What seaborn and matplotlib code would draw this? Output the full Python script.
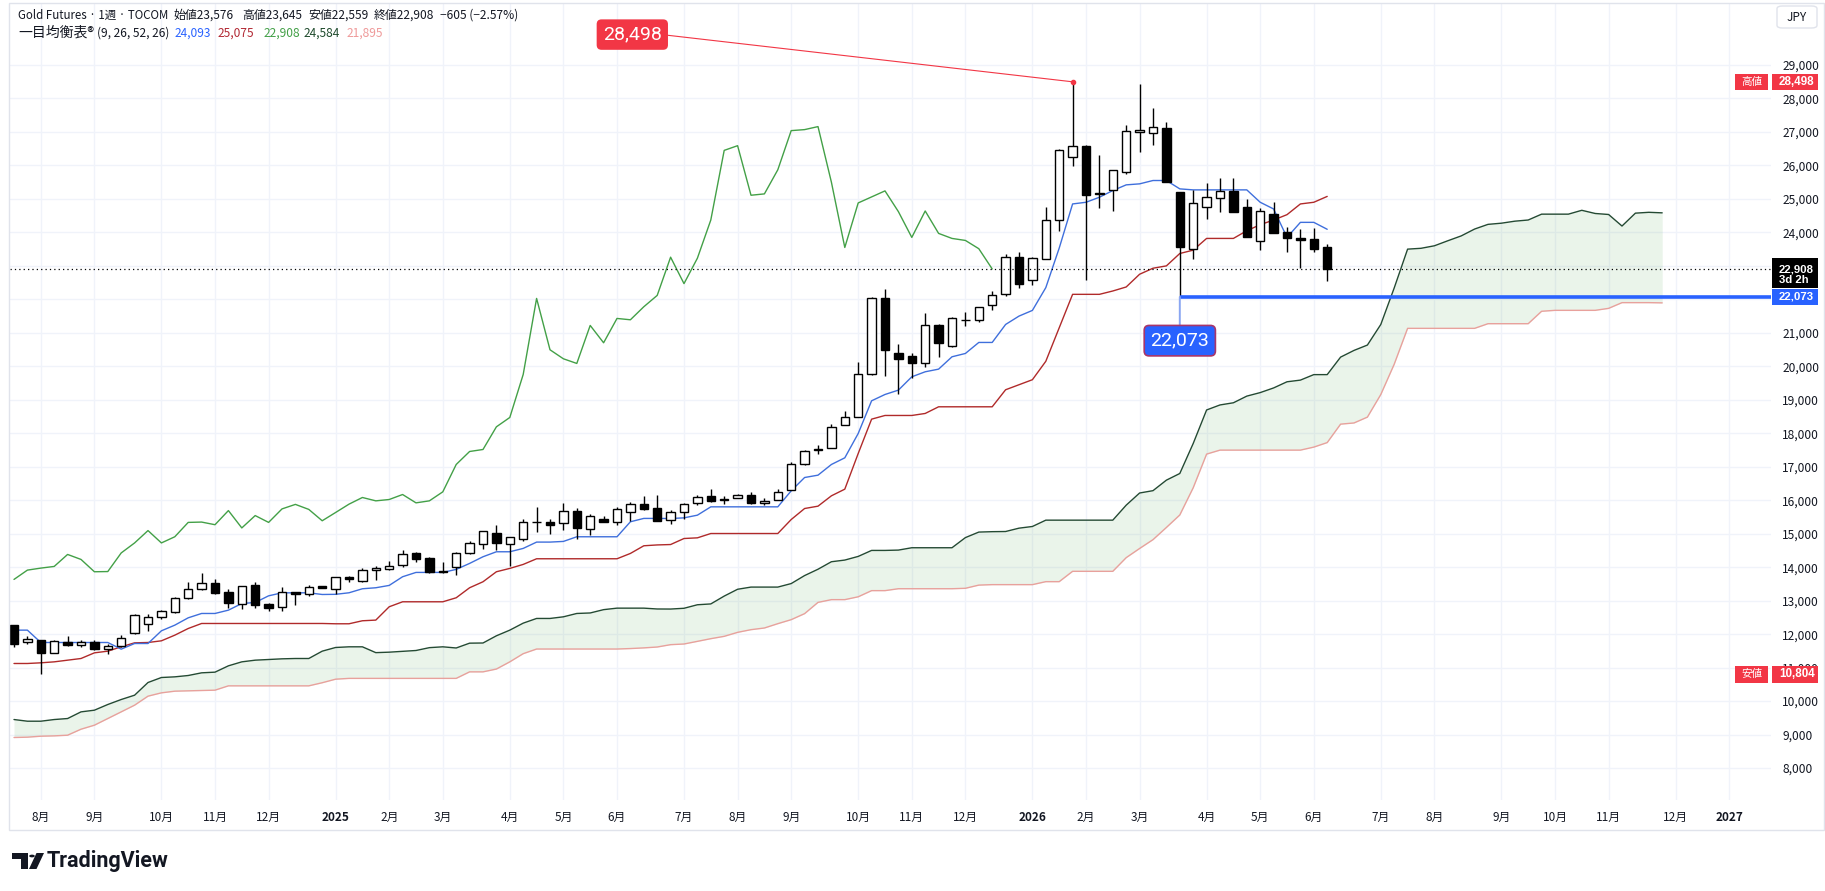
import numpy as np
import pandas as pd
import matplotlib
matplotlib.use("Agg")
import matplotlib.pyplot as plt
import matplotlib.transforms as mtransforms
from matplotlib.patches import Rectangle, FancyBboxPatch, Polygon, Circle
import seaborn as sns

# ---------------- data (weekly candles, TOCOM gold, JPY) ----------------
opens = [12269, 11751, 11821, 11452, 11761, 11691, 11751, 11542, 11651, 12020,
         12289, 12518, 12647, 13066, 13335, 13514, 13245, 12886, 13454, 12886,
         12797, 13245, 13185, 13434, 13345, 13704, 13595, 13904, 13953, 14053,
         14411, 14262, 13880, 14018, 14426, 14695, 15034, 14695, 14830, 15338,
         15338, 15308, 15691, 15153, 15427, 15338, 15646, 15886, 15756, 15395,
         15634, 15903, 16122, 16032, 16052, 16171, 15922, 16022, 16291, 17078,
         17506, 17546, 18233, 18492, 19757, 22028, 20384, 20305, 20086, 21221,
         20614, 21380, 21371, 21829, 22150, 23260, 22570, 23200, 24370, 26260,
         26590, 25160, 25270, 25810, 27010, 26980, 27130, 25210, 23500, 24770,
         25040, 25240, 24770, 23740, 24550, 24010, 23840, 23800, 23576]
highs = [12269, 11940, 11840, 11811, 11940, 11821, 11821, 11721, 11970, 12598,
         12598, 12717, 13096, 13554, 13813, 13634, 13335, 13444, 13554, 12916,
         13405, 13265, 13474, 13434, 13700, 13744, 13962, 14023, 14182, 14511,
         14461, 14312, 14143, 14446, 14795, 15094, 15258, 14909, 15427, 15796,
         15427, 15910, 15781, 15592, 15517, 15811, 15936, 16125, 16154, 15703,
         15903, 16152, 16331, 16122, 16191, 16241, 16072, 16331, 17148, 17496,
         17645, 18273, 18661, 20116, 22058, 22297, 20663, 20384, 21580, 21251,
         21460, 21630, 21779, 22247, 23350, 23420, 23280, 24770, 26500, 28498,
         26620, 26300, 25870, 27200, 28420, 27730, 27310, 25210, 25280, 25480,
         25610, 25610, 24990, 24740, 24910, 24170, 24110, 24130, 23645]
lows = [11622, 11701, 10804, 11440, 11651, 11622, 11532, 11422, 11622, 12000,
        12100, 12458, 12627, 13056, 13305, 13205, 12787, 12757, 12787, 12697,
        12697, 12876, 13146, 13365, 13195, 13545, 13545, 13624, 13923, 13998,
        14143, 13834, 13834, 13769, 14396, 14546, 14516, 14048, 14790, 15057,
        14998, 15109, 14845, 14964, 15338, 15259, 15392, 15706, 15387, 15305,
        15454, 15863, 15952, 15873, 16052, 15883, 15853, 16022, 16291, 17048,
        17377, 17546, 18233, 18472, 19737, 19717, 19159, 19637, 19966, 20265,
        20584, 21211, 21311, 21669, 22110, 22350, 22420, 23200, 24050, 25980,
        22580, 24720, 24630, 25750, 26400, 26620, 25500, 22073, 23220, 24390,
        24600, 24600, 23850, 23460, 23970, 23400, 22950, 23400, 22559]
closes = [11721, 11841, 11442, 11781, 11681, 11761, 11562, 11632, 11900, 12568,
          12518, 12677, 13066, 13335, 13534, 13235, 12916, 13424, 12877, 12767,
          13245, 13185, 13414, 13365, 13693, 13635, 13913, 13973, 14023, 14381,
          14232, 13864, 13870, 14426, 14725, 15094, 14725, 14909, 15338, 15348,
          15269, 15691, 15173, 15542, 15338, 15741, 15876, 15726, 15387, 15634,
          15883, 16082, 15982, 16022, 16171, 15922, 15982, 16251, 17068, 17456,
          17516, 18193, 18472, 19757, 22028, 20494, 20225, 20086, 21221, 20703,
          21430, 21390, 21779, 22118, 23260, 22470, 23230, 24370, 26450, 26590,
          25110, 25150, 25870, 27040, 27070, 27160, 25500, 23550, 24880, 25060,
          25240, 24620, 23850, 24640, 23970, 23820, 23760, 23513, 22908]

# Ichimoku (9, 26, 52, 26)
tenkan = [12120, 12120, 11751, 11751, 11751, 11751, 11751, 11751, 11552, 11721,
          11721, 12100, 12269, 12488, 12618, 12618, 12717, 12916, 12946, 13145,
          13235, 13235, 13235, 13185, 13190, 13236, 13356, 13386, 13456, 13715,
          13844, 13844, 13844, 13934, 14113, 14312, 14461, 14461, 14561, 14750,
          14750, 14770, 14909, 14909, 14909, 14909, 15357, 15457, 15457, 15454,
          15474, 15554, 15803, 15803, 15803, 15803, 15803, 15803, 16281, 16679,
          16749, 17068, 17267, 17994, 18970, 19159, 19289, 19687, 19837, 19916,
          20285, 20384, 20713, 20713, 21250, 21500, 21670, 22350, 23530, 24850,
          24900, 25050, 25250, 25420, 25450, 25550, 25550, 25300, 25270, 25270,
          25270, 25270, 25270, 24900, 24700, 23850, 24300, 24300, 24093]
kijun = [11124, 11124, 11144, 11173, 11223, 11273, 11442, 11492, 11622, 11741,
         11751, 11801, 11970, 12169, 12319, 12319, 12319, 12319, 12319, 12319,
         12319, 12319, 12319, 12319, 12310, 12310, 12400, 12420, 12818, 12967,
         12967, 12967, 12967, 13087, 13386, 13565, 13864, 13964, 14083, 14252,
         14252, 14252, 14252, 14252, 14252, 14252, 14411, 14640, 14665, 14677,
         14857, 14877, 15006, 15006, 15006, 15006, 15006, 15006, 15424, 15753,
         15823, 16132, 16331, 17396, 18422, 18532, 18532, 18532, 18592, 18791,
         18791, 18791, 18791, 18791, 19300, 19450, 19600, 20150, 21150, 22150,
         22150, 22150, 22250, 22370, 22750, 22930, 23000, 23370, 23470, 23820,
         23820, 23820, 24050, 24230, 24370, 24530, 24850, 24900, 25075]
span_a = [9450, 9400, 9400, 9450, 9480, 9679, 9729, 9899, 10048, 10177,
          10556, 10705, 10725, 10765, 10845, 10865, 11054, 11173, 11223, 11243,
          11263, 11273, 11273, 11492, 11602, 11622, 11622, 11448, 11462, 11487,
          11512, 11597, 11622, 11587, 11731, 11736, 11951, 12120, 12329, 12469,
          12469, 12518, 12618, 12633, 12732, 12777, 12777, 12777, 12752, 12750,
          12773, 12878, 12903, 13137, 13341, 13406, 13406, 13406, 13511, 13750,
          13939, 14163, 14213, 14322, 14501, 14501, 14511, 14581, 14581, 14581,
          14581, 14884, 15049, 15061, 15066, 15166, 15216, 15405, 15405, 15405,
          15405, 15405, 15405, 15853, 16216, 16286, 16600, 16799, 17695, 18696,
          18846, 18911, 19110, 19215, 19354, 19538, 19588, 19752, 19752, 20275,
          20475, 20635, 21250, 22340, 23500, 23525, 23600, 23750, 23895, 24100,
          24240, 24275, 24335, 24370, 24545, 24545, 24545, 24660, 24565, 24535,
          24190, 24575, 24600, 24584]
span_b = [8913, 8923, 8952, 8962, 8982, 9161, 9281, 9480, 9679, 9879,
          10148, 10247, 10297, 10307, 10317, 10327, 10456, 10456, 10456, 10456,
          10456, 10456, 10456, 10549, 10655, 10679, 10679, 10679, 10679, 10679,
          10679, 10679, 10679, 10679, 10874, 10874, 10958, 11173, 11417, 11556,
          11556, 11556, 11556, 11556, 11556, 11556, 11570, 11590, 11616, 11686,
          11706, 11785, 11865, 11935, 12054, 12134, 12184, 12313, 12433, 12613,
          12949, 13031, 13031, 13116, 13300, 13300, 13357, 13357, 13357, 13357,
          13357, 13370, 13465, 13479, 13479, 13479, 13479, 13568, 13568, 13877,
          13877, 13877, 13877, 14285, 14559, 14823, 15187, 15560, 16372, 17378,
          17497, 17497, 17497, 17497, 17497, 17497, 17497, 17587, 17722, 18273,
          18308, 18483, 19158, 20062, 21134, 21134, 21134, 21134, 21134, 21134,
          21273, 21273, 21273, 21273, 21644, 21672, 21672, 21672, 21672, 21731,
          21902, 21902, 21902, 21895]
LAG = 25  # displacement (26) - 1
first_bar_date = "2024-07-22"
month_labels = ["8月", "9月", "10月", "11月", "12月", "2025", "2月", "3月", "4月", "5月",
                "6月", "7月", "8月", "9月", "10月", "11月", "12月", "2026", "2月", "3月",
                "4月", "5月", "6月", "7月", "8月", "9月", "10月", "11月", "12月", "2027"]
price_ticks = list(range(8000, 30000, 1000))
hidden_price_labels = [22000, 23000]  # covered by the last-price / support tags
bar_time_left = "3d 2h"

# ---------------- style ----------------
sns.set_theme(style="white")
plt.rcParams["font.family"] = ["Noto Sans CJK JP", "DejaVu Sans"]
plt.rcParams["axes.unicode_minus"] = False
TXT = "#131722"
C_TENKAN = "#3f6fdc"
C_KIJUN = "#b02a2a"
C_CHIKOU = "#43a047"
C_SPANA = "#244a33"
C_SPANB = "#e8a19c"
C_RED = "#f23645"
C_BLUE = "#2962ff"

W, H, DPI = 1825, 891, 100
fig = plt.figure(figsize=(W / DPI, H / DPI), dpi=DPI)
fig.patch.set_facecolor("white")

# pane geometry (pixels, from top-left) and scale calibration
PANE_L, PANE_R, PANE_T, PANE_B = 10, 1771, 4, 800
BAR_PX, FIRST_BAR_PX = 13.4, 14
PX_PER_YEN, Y_REF_PX, Y_REF = 33.48 / 1000, 65, 29000
ax = fig.add_axes([PANE_L / W, 1 - PANE_B / H, (PANE_R - PANE_L) / W, (PANE_B - PANE_T) / H])
xmin = (PANE_L - FIRST_BAR_PX) / BAR_PX
xmax = (PANE_R - FIRST_BAR_PX) / BAR_PX
ax.set_xlim(xmin, xmax)
ax.set_ylim(Y_REF - (PANE_B - Y_REF_PX) / PX_PER_YEN, Y_REF + (Y_REF_PX - PANE_T) / PX_PER_YEN)
ax.set_facecolor("white")
for s in ax.spines.values():
    s.set_visible(False)

# ---------------- time axis ----------------
dates = pd.date_range(first_bar_date, periods=int(xmax) + 2, freq="7D")
tick_pos = [i for i in range(1, len(dates)) if dates[i].month != dates[i - 1].month]
tick_pos = tick_pos[:len(month_labels)]
ax.set_xticks(tick_pos)
ax.set_xticklabels(month_labels)
for t in ax.get_xticklabels():
    if t.get_text().isdigit():
        t.set_fontweight("bold")
ax.tick_params(axis="x", length=0, pad=8, labelsize=8.5, labelcolor=TXT)

ax.yaxis.tick_right()
ax.set_yticks(price_ticks)
ax.set_yticklabels(["" if v in hidden_price_labels else f"{v:,}" for v in price_ticks])
ax.tick_params(axis="y", length=0, pad=8, labelsize=8.6, labelcolor=TXT)
ax.grid(True, color="#f0f3fa", lw=1.0)
ax.set_axisbelow(True)

# ---------------- ichimoku ----------------
n = len(closes)
xa = np.arange(len(span_a))
sa, sb = np.array(span_a, float), np.array(span_b, float)
ax.fill_between(xa, sa, sb, where=sa >= sb, interpolate=True, color="#43a047", alpha=0.11, lw=0, zorder=1)
ax.fill_between(xa, sa, sb, where=sa < sb, interpolate=True, color="#f23645", alpha=0.11, lw=0, zorder=1)
sns.lineplot(x=xa, y=sa, ax=ax, color=C_SPANA, linewidth=1.0, estimator=None, legend=False, zorder=2)
sns.lineplot(x=xa, y=sb, ax=ax, color=C_SPANB, linewidth=1.0, estimator=None, legend=False, zorder=2)
chikou = np.array(closes[LAG:], float)
sns.lineplot(x=np.arange(len(chikou)), y=chikou, ax=ax, color=C_CHIKOU, linewidth=1.0,
             estimator=None, legend=False, zorder=2)
sns.lineplot(x=np.arange(n), y=kijun, ax=ax, color=C_KIJUN, linewidth=1.0, estimator=None, legend=False, zorder=3)
sns.lineplot(x=np.arange(n), y=tenkan, ax=ax, color=C_TENKAN, linewidth=1.0, estimator=None, legend=False, zorder=3)

# ---------------- candles ----------------
o, h, l, c = (np.array(a, float) for a in (opens, highs, lows, closes))
idx = np.arange(n)
up = c >= o
body_lo = np.minimum(o, c)
body_h = np.maximum(np.abs(c - o), 12)
ax.vlines(idx, l, h, color="black", lw=1.0, zorder=4)
ax.bar(idx[up], body_h[up], bottom=body_lo[up], width=0.62, color="white", edgecolor="black", linewidth=1.0, zorder=5)
ax.bar(idx[~up], body_h[~up], bottom=body_lo[~up], width=0.62, color="black", edgecolor="black", linewidth=1.0, zorder=5)

# last price dotted line
ax.axhline(c[-1], color="black", lw=0.9, ls=(0, (1, 2.5)), zorder=6)

# support line from recent low
sup_i = int(np.argmin(l[-20:])) + n - 20
ax.hlines(l[sup_i], sup_i, xmax, color=C_BLUE, lw=2.6, zorder=7)
ax.annotate(f"{int(l[sup_i]):,}", xy=(sup_i, l[sup_i]), xytext=(0, -31.5), textcoords="offset points",
            ha="center", va="center", color="white", fontsize=14, family=["Roboto", "DejaVu Sans"],
            bbox=dict(boxstyle="round,pad=0.32,rounding_size=0.25", fc=C_BLUE, ec="#a8356a", lw=1.2),
            arrowprops=dict(arrowstyle="-", color="#8aa6f2", lw=1.4, shrinkA=0, shrinkB=0),
            zorder=9)

# high callout
hi_i = int(np.argmax(h))
ax.scatter([hi_i], [h[hi_i]], s=9, color=C_RED, zorder=8)
ax.annotate(f"{int(h[hi_i]):,}", xy=(hi_i, h[hi_i]), xytext=(-317, 34), textcoords="offset points",
            ha="center", va="center", color="white", fontsize=14, family=["Roboto", "DejaVu Sans"],
            bbox=dict(boxstyle="round,pad=0.32,rounding_size=0.25", fc=C_RED, ec="none"),
            arrowprops=dict(arrowstyle="-", color=C_RED, lw=0.8, shrinkA=0, shrinkB=0, relpos=(1, 0.5)),
            zorder=9)

# ---------------- price-axis tags ----------------
trans = mtransforms.blended_transform_factory(ax.transAxes, ax.transData)
AXW = PANE_R - PANE_L
YPP = 1 / PX_PER_YEN
TAGFONT = ["Liberation Sans", "DejaVu Sans"]


def axfrac(xpx):
    return (xpx - PANE_L) / AXW


def tag(price, text, fc, x0, x1, up_px=8, dn_px=8, fs=8.4, weight="bold", ha="left", tx=None, family=None):
    ax.add_patch(Rectangle((axfrac(x0), price - dn_px * YPP), axfrac(x1) - axfrac(x0), (up_px + dn_px) * YPP,
                           transform=trans, fc=fc, ec="none", clip_on=False, zorder=20))
    xt = axfrac(tx if tx is not None else (x0 + x1) / 2)
    ax.text(xt, price, text, transform=trans, ha=ha, va="center", color="white", fontsize=fs,
            fontweight=weight, clip_on=False, zorder=21, family=family or TAGFONT)


lo_i = int(np.argmin(l))
tag(h[hi_i], f"{int(h[hi_i]):,}", C_RED, 1772, 1818, tx=1779)
tag(h[hi_i], "高値", C_RED, 1735, 1768, ha="center", weight="normal", fs=7.6, family=["Noto Sans CJK JP"])
tag(l[lo_i], f"{int(l[lo_i]):,}", C_RED, 1772, 1818, up_px=8.5, dn_px=8.5, tx=1779)
tag(l[lo_i], "安値", C_RED, 1735, 1768, up_px=8.5, dn_px=8.5, ha="center", weight="normal", fs=7.6,
    family=["Noto Sans CJK JP"])
# last price + countdown tag (one two-line text)
ax.add_patch(Rectangle((axfrac(1772), c[-1] - 19 * YPP), axfrac(1818) - axfrac(1772), 30 * YPP,
                       transform=trans, fc="black", ec="none", clip_on=False, zorder=20))
ax.text(axfrac(1779), c[-1] - 5.5 * YPP, f"{int(c[-1]):,}\n{bar_time_left}", transform=trans,
        ha="left", va="center", color="white", fontsize=8.2, fontweight="bold", linespacing=1.05,
        clip_on=False, zorder=21, family=TAGFONT)
tag(l[sup_i], f"{int(l[sup_i]):,}", C_BLUE, 1772, 1818, up_px=7.5, dn_px=8, tx=1779, fs=8.2)

# ---------------- header ----------------
chg = c[-1] - c[-2]
pct = chg / c[-2] * 100
header1 = [("Gold Futures · 1週 · TOCOM", TXT, 18, 8.3),
           (f"始値{int(o[-1]):,}", TXT, 173, 8.6),
           (f"高値{int(h[-1]):,}", TXT, 242, 8.6),
           (f"安値{int(l[-1]):,}", TXT, 308, 8.6),
           (f"終値{int(c[-1]):,}", TXT, 374, 8.6),
           (f"−{abs(int(chg)):,} (−{abs(pct):.2f}%)", TXT, 440, 8.6)]
header2 = [("一目均衡表®", TXT, 18, 10.0),
           ("(9, 26, 52, 26)", TXT, 97, 8.6),
           (f"{tenkan[-1]:,}", C_BLUE, 175, 8.6),
           (f"{kijun[-1]:,}", "#b22833", 218, 8.6),
           (f"{closes[-1]:,}", C_CHIKOU, 264, 8.6),
           (f"{span_a[-1]:,}", "#1e4a2c", 304, 8.6),
           (f"{span_b[-1]:,}", "#ef9a9a", 347, 8.6)]
for text, color, xp, fs in header1:
    fig.text(xp / W, 1 - 15 / H, text, color=color, fontsize=fs, ha="left", va="center")
for text, color, xp, fs in header2:
    fig.text(xp / W, 1 - 33 / H, text, color=color, fontsize=fs, ha="left", va="center")

# JPY button
fig.patches.append(FancyBboxPatch((1777 / W, 1 - 28 / H), 40 / W, 22 / H,
                                  boxstyle="round,pad=0,rounding_size=0.003", transform=fig.transFigure,
                                  fc="white", ec="#e0e3eb", lw=1))
fig.text(1797 / W, 1 - 17.5 / H, "JPY", ha="center", va="center", fontsize=8.5, color=TXT)

# frame
fig.patches.append(Rectangle((9 / W, 1 - 830 / H), (1824 - 9) / W, (830 - 3) / H, transform=fig.transFigure,
                             fill=False, ec="#e0e3eb", lw=1))


# TradingView logo
def fx(x):
    return x / W


def fy(y):
    return 1 - y / H


fig.patches.append(Polygon([(fx(12), fy(853)), (fx(28), fy(853)), (fx(28), fy(869)), (fx(21), fy(869)),
                            (fx(21), fy(859)), (fx(12), fy(859))], closed=True, transform=fig.transFigure,
                           fc=TXT, ec="none"))
fig.patches.append(Circle((fx(32), fy(856)), 2.8 / W, transform=fig.transFigure, fc=TXT, ec="none"))
fig.patches.append(Polygon([(fx(29), fy(869)), (fx(36.5), fy(853)), (fx(44), fy(853)), (fx(36.5), fy(869))],
                           closed=True, transform=fig.transFigure, fc=TXT, ec="none"))
fig.text(fx(47), fy(861), "TradingView", fontsize=15.5, fontweight="bold", color=TXT, ha="left", va="center",
         family=["Roboto", "DejaVu Sans"])

fig.savefig("out.png", dpi=DPI, facecolor="white")
